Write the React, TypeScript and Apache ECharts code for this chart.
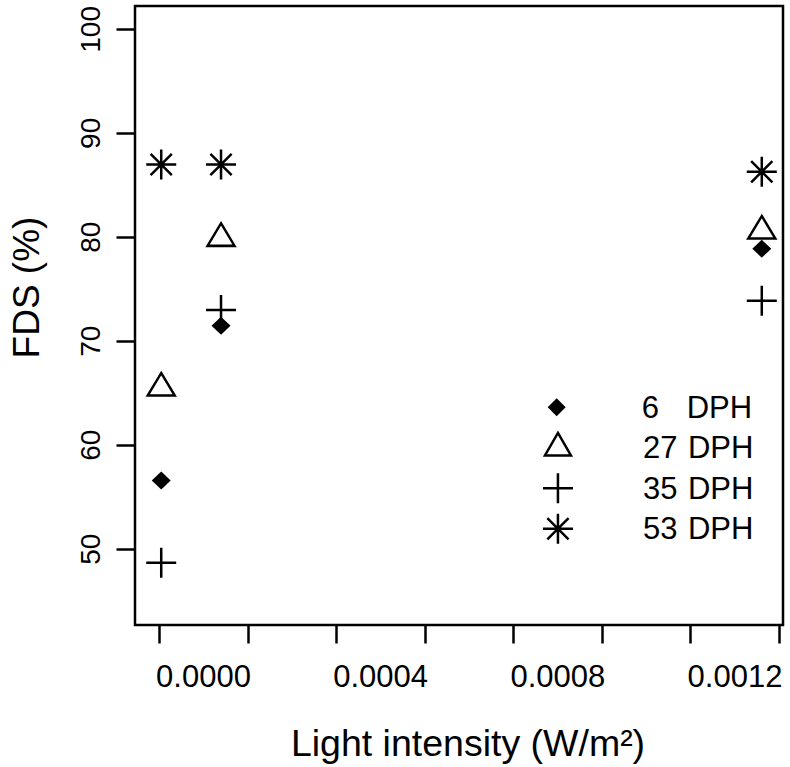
import React, { useEffect, useRef } from 'react';
import * as echarts from 'echarts';

// ---- data ----
const seriesNames = ['6 DPH', '27 DPH', '35 DPH', '53 DPH'];
const lightIntensity = [-0.0000954, 0.0000396, 0.0012604];
const fds6 = [56.6, 71.5, 78.9];
const fds27 = [65.5, 79.9, 80.6];
const fds35 = [48.7, 73.0, 73.9];
const fds53 = [87.0, 87.0, 86.3];
const xTickValues = [-0.0001, 0.0001, 0.0003, 0.0005, 0.0007, 0.0009, 0.0011, 0.0013];
const xLabelValues = [0, 0.0004, 0.0008, 0.0012];
const yTickValues = [50, 60, 70, 80, 90, 100];

const FONT = 'Liberation Sans, Arial, Helvetica, sans-serif';
const DIAMOND = 'path://M0,-1L1,0L0,1L-1,0Z';
const TRIANGLE = 'path://M0,-2L1.732,1L-1.732,1Z M0,2';
const PLUS = 'path://M-1,0L1,0M0,-1L0,1';
const STAR = 'path://M-1,0L1,0M0,-1L0,1M-0.7071,-0.7071L0.7071,0.7071M-0.7071,0.7071L0.7071,-0.7071';

const symbols = [DIAMOND, TRIANGLE, PLUS, STAR];
const symbolSizes: any[] = [[19, 18], [27, 30], [30, 30], [30, 30]];
const legendIconHalfWidth = [9, 13, 15, 15];
const filled = [true, false, false, false];
const values = [fds6, fds27, fds35, fds53];
const legendRowY = [406.7, 446.7, 487, 527.5];
const LEGEND_ICON_X = 556.7;

export default function App() {
  const ref = useRef<HTMLDivElement>(null);
  useEffect(() => {
    if (!ref.current) return;
    const chart = echarts.init(ref.current, undefined, { renderer: 'svg' });
    const itemStyleFor = (i: number) =>
      filled[i]
        ? { color: '#000', borderWidth: 0, opacity: 1 }
        : { color: 'rgba(0,0,0,0)', borderColor: '#000', borderWidth: 2.5, opacity: 1 };

    const series = seriesNames.map((name, i) => ({
      name,
      type: 'scatter',
      symbol: symbols[i],
      symbolSize: symbolSizes[i],
      itemStyle: itemStyleFor(i),
      emphasis: { disabled: true },
      data: lightIntensity.map((x, j) => [x, values[i][j]]),
    }));

    const textBase = { fontFamily: FONT, fontSize: 31, color: '#000', lineHeight: 30 };
    const legends = seriesNames.map((name, i) => ({
      show: true,
      data: [{ name, icon: symbols[i] }],
      left: LEGEND_ICON_X - legendIconHalfWidth[i],
      top: legendRowY[i] - 15,
      padding: 0,
      itemWidth: 160,
      itemHeight: symbolSizes[i][1],
      symbolKeepAspect: true,
      selectedMode: false,
      itemStyle: itemStyleFor(i),
      formatter: (n: string) => {
        const parts = n.split(' ');
        return `{n|${parts[0]}}{d|${parts[1]}}`;
      },
      textStyle: {
        ...textBase,
        rich: {
          n: { ...textBase, width: 45, align: 'left' },
          d: { ...textBase, align: 'left' },
        },
      },
    }));

    chart.setOption({
      animation: false,
      backgroundColor: '#fff',
      grid: {
        left: 133,
        top: 6,
        right: 7,
        bottom: 141.5,
        show: true,
        borderColor: '#000',
        borderWidth: 2.5,
        backgroundColor: 'transparent',
      },
      legend: legends,
      xAxis: {
        type: 'value',
        min: -0.0001546,
        max: 0.0013083,
        name: 'Light intensity (W/m²)',
        nameLocation: 'middle',
        nameGap: 99,
        nameTextStyle: { fontFamily: FONT, fontSize: 37.5, color: '#000', padding: [0, 0, 0, 18] },
        axisLine: { show: false, onZero: false },
        splitLine: { show: false },
        axisTick: {
          show: true,
          customValues: xTickValues,
          length: 18.5,
          lineStyle: { color: '#000', width: 2.5 },
        },
        axisLabel: {
          show: true,
          customValues: xLabelValues,
          margin: 36,
          fontFamily: FONT,
          fontSize: 31,
          color: '#000',
          formatter: (v: number) => v.toFixed(4),
        },
      },
      yAxis: {
        type: 'value',
        min: 42.7,
        max: 102.25,
        name: 'FDS (%)',
        nameLocation: 'middle',
        nameGap: 90,
        nameTextStyle: { fontFamily: FONT, fontSize: 37, color: '#000', padding: [0, 0, 0, 56] },
        axisLine: { show: false, onZero: false },
        splitLine: { show: false },
        axisTick: {
          show: true,
          customValues: yTickValues,
          length: 18.5,
          lineStyle: { color: '#000', width: 2.5 },
        },
        axisLabel: {
          show: true,
          customValues: yTickValues,
          rotate: 90,
          margin: 31,
          fontFamily: FONT,
          fontSize: 28,
          color: '#000',
        },
      },
      series,
    });
    return () => chart.dispose();
  }, []);
  return (
    <div
      ref={ref}
      style={{ position: 'fixed', left: 0, top: 0, width: 790, height: 767, background: '#fff' }}
    />
  );
}
